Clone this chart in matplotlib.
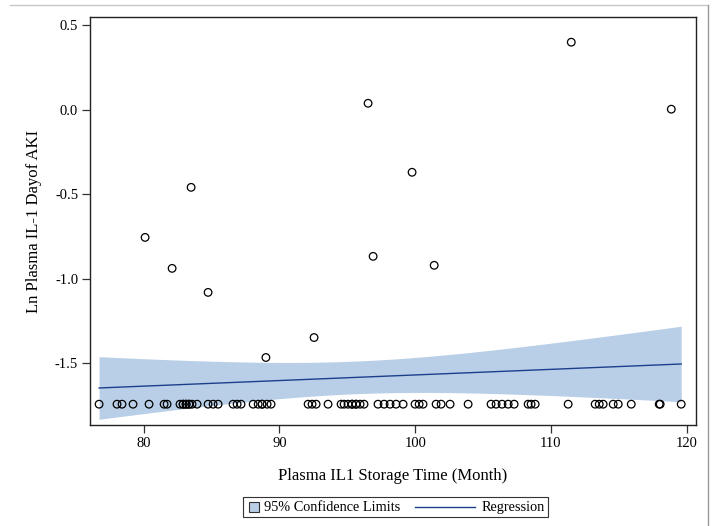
import numpy as np
import matplotlib
matplotlib.use("Agg")
import matplotlib.pyplot as plt
from matplotlib.lines import Line2D
from matplotlib.patches import Rectangle

# Samples at the lower limit of detection (ln value); dense clusters hold overlapping points
lod_value = -1.742
lod_months = [76.71, 78.03, 78.40, 79.21, 80.39, 81.50, 81.72, 82.67, 82.90, 82.90,
              83.12, 83.12, 83.34, 83.34, 83.56, 83.93, 84.74, 85.11, 85.48, 86.58,
              86.88, 87.17, 88.06, 88.43, 88.72, 88.72, 89.09, 89.38, 92.11, 92.40,
              92.70, 93.58, 94.54, 94.76, 95.05, 95.35, 95.35, 95.64, 95.64, 95.94,
              96.23, 97.26, 97.71, 98.15, 98.59, 99.11, 99.99, 100.29, 100.58, 101.54,
              101.91, 102.57, 103.90, 105.59, 105.96, 106.40, 106.85, 107.29, 108.32,
              108.54, 108.84, 111.27, 113.26, 113.56, 113.85, 114.59, 114.96, 115.92,
              117.98, 118.05, 119.60]

# Samples with measurable IL-1
det_months = [80.10, 82.09, 83.49, 84.74, 89.00, 92.55, 96.53, 96.90, 99.77, 101.40, 111.50, 118.87]
det_values = [-0.756, -0.939, -0.460, -1.081, -1.466, -1.348, 0.037, -0.868, -0.371, -0.921, 0.398, 0.002]

x_ticks = [80, 90, 100, 110, 120]
y_ticks = [0.5, 0.0, -0.5, -1.0, -1.5]

x = np.array(lod_months + det_months)
y = np.array([lod_value] * len(lod_months) + det_values)

# Ordinary least squares fit with 95% confidence limits for the mean
n = len(x)
slope, intercept = np.polyfit(x, y, 1)
resid = y - (intercept + slope * x)
s = np.sqrt(np.sum(resid ** 2) / (n - 2))
t_crit = 1.99
xg = np.linspace(x.min(), x.max(), 200)
yg = intercept + slope * xg
se = s * np.sqrt(1.0 / n + (xg - x.mean()) ** 2 / np.sum((x - x.mean()) ** 2))
lower, upper = yg - t_crit * se, yg + t_crit * se

plt.rcParams["font.family"] = ["Liberation Serif", "DejaVu Serif"]

W, H = 717, 526
fig = plt.figure(figsize=(W / 100, H / 100), dpi=100)
ax = fig.add_axes([90 / W, 1 - 425 / H, 606 / W, 408 / H])

band_color = "#b9cfe7"
line_color = "#1c3f8c"

ax.fill_between(xg, lower, upper, color=band_color, linewidth=0, zorder=1)
ax.plot(xg, yg, color=line_color, linewidth=1.0, zorder=2)
ax.scatter(x, y, s=30, facecolors="none", edgecolors="black", linewidths=0.9, zorder=3)

ax.set_xlim(76.04, 120.69)
ax.set_ylim(-1.865, 0.547)
ax.set_xticks(x_ticks)
ax.set_yticks(y_ticks)
ax.set_yticklabels([f"{v:.1f}" for v in y_ticks])
ax.tick_params(direction="out", length=6, width=0.9, labelsize=10.5, colors="#333333",
               labelcolor="black", pad=2.5)
for sp in ax.spines.values():
    sp.set_linewidth(1.0)
    sp.set_color("#222222")

ax.set_xlabel("Plasma IL1 Storage Time (Month)", fontsize=12, labelpad=13)
ax.set_ylabel("Ln Plasma IL-1 Dayof AKI", fontsize=12, labelpad=9)


def px(xp, yp):
    return xp / W, 1 - yp / H


# Legend drawn in figure pixel positions below the plot
lx0, ly0 = px(243, 517)
lx1, ly1 = px(548, 497)
fig.add_artist(Rectangle((lx0, ly0), lx1 - lx0, ly1 - ly0, transform=fig.transFigure,
                         facecolor="white", edgecolor="#333333", linewidth=0.8))
sx0, sy0 = px(249, 512)
sx1, sy1 = px(259, 502)
fig.add_artist(Rectangle((sx0, sy0), sx1 - sx0, sy1 - sy0, transform=fig.transFigure,
                         facecolor=band_color, edgecolor="#333333", linewidth=0.8))
tx, ty = px(264, 507.5)
fig.text(tx, ty, "95% Confidence Limits", fontsize=10.3, va="center", ha="left")
ax_l0, ay = px(415, 507)
ax_l1, _ = px(475, 507)
fig.add_artist(Line2D([ax_l0, ax_l1], [ay, ay], color=line_color, linewidth=1.0,
                      transform=fig.transFigure))
rx, ry = px(482, 507.5)
fig.text(rx, ry, "Regression", fontsize=10.3, va="center", ha="left")

# Outer panel lines
fig.add_artist(Line2D([10 / W, 708 / W], [1 - 5 / H, 1 - 5 / H],
                      color="#c8c8c8", linewidth=1.0, transform=fig.transFigure))
fig.add_artist(Line2D([708 / W, 708 / W], [1 - 5 / H, 0],
                      color="#999999", linewidth=1.0, transform=fig.transFigure))

fig.savefig("out.png", dpi=100)
